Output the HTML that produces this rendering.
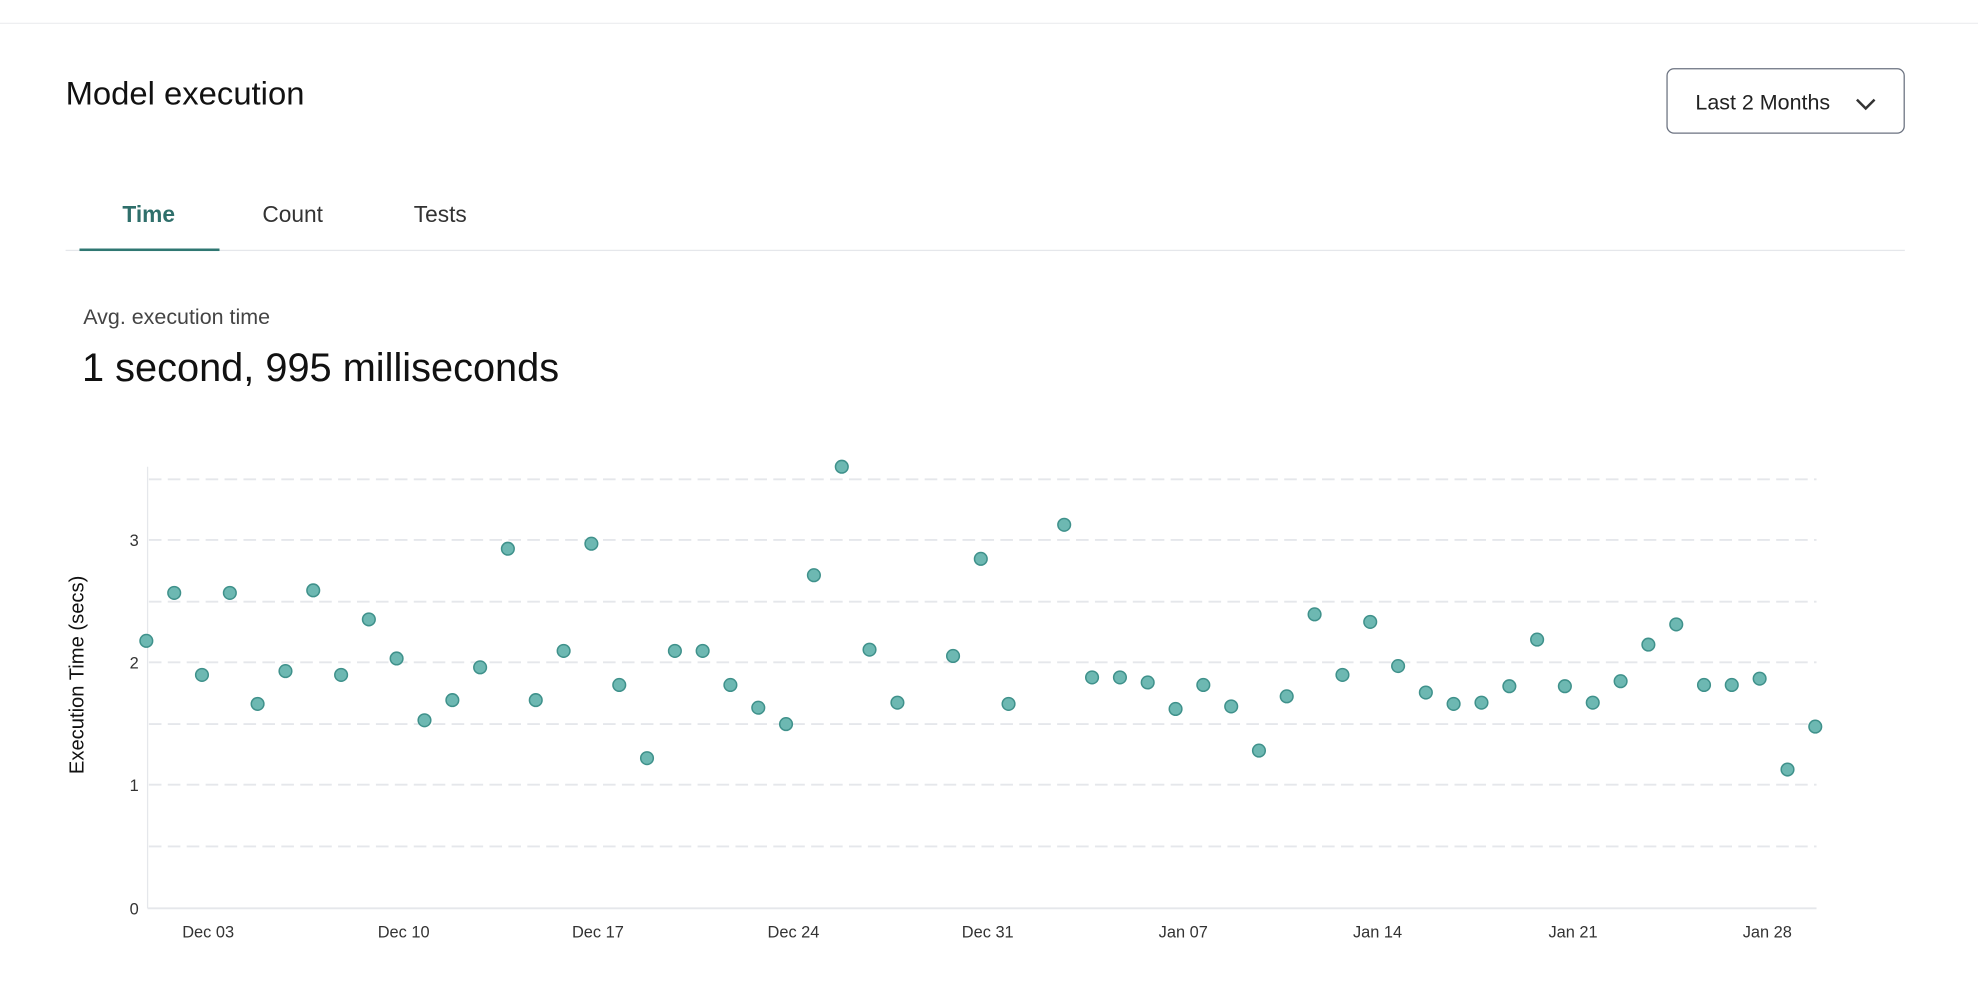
<!DOCTYPE html>
<html><head><meta charset="utf-8"><style>
html,body{margin:0;padding:0;background:#fff;width:1978px;height:1000px;overflow:hidden}
#w{position:absolute;left:0;top:0;width:1568px;height:793px;transform:scale(1.26148);transform-origin:0 0;font-family:"Liberation Sans",sans-serif}
.a{position:absolute;white-space:nowrap}
</style></head><body><div id="w">
<div class="a" style="left:0;top:18px;width:1568px;height:1px;background:#eeeff1"></div>
<div class="a" style="left:52px;top:59px;font-size:26px;color:#111">Model execution</div>
<div class="a" style="left:1321px;top:54px;width:189px;height:52px;border:1px solid #6b7280;border-radius:6px;box-sizing:border-box"></div>
<div class="a" style="left:1344px;top:72px;font-size:17px;color:#222">Last 2 Months</div>
<svg class="a" style="left:1470px;top:76px" width="18" height="12"><path d="M2 3 L9 10 L16 3" fill="none" stroke="#333" stroke-width="2"/></svg>
<div class="a" style="left:97px;top:160px;font-size:18px;color:#2f6f6b;font-weight:bold">Time</div>
<div class="a" style="left:208px;top:160px;font-size:18px;color:#333">Count</div>
<div class="a" style="left:328px;top:160px;font-size:18px;color:#333">Tests</div>
<div class="a" style="left:52px;top:198px;width:1458px;height:1px;background:#e5e7eb"></div>
<div class="a" style="left:63px;top:197px;width:111px;height:2px;background:#2f7772"></div>
<div class="a" style="left:66px;top:242px;font-size:17px;color:#444">Avg. execution time</div>
<div class="a" style="left:65px;top:273px;font-size:31.5px;color:#111">1 second, 995 milliseconds</div>
<svg class="a" style="left:0;top:0" width="1568" height="793">
<g stroke="#e5e7eb" stroke-width="1.5" stroke-dasharray="10 5">
<line x1="118" x2="1440" y1="380" y2="380"/><line x1="118" x2="1440" y1="428" y2="428"/>
<line x1="118" x2="1440" y1="477" y2="477"/><line x1="118" x2="1440" y1="525" y2="525"/>
<line x1="118" x2="1440" y1="574" y2="574"/><line x1="118" x2="1440" y1="622" y2="622"/>
<line x1="118" x2="1440" y1="671" y2="671"/></g>
<line x1="117" x2="117" y1="370" y2="720" stroke="#e5e7eb" stroke-width="1"/>
<line x1="117" x2="1440" y1="720" y2="720" stroke="#e5e7eb" stroke-width="1.5"/>
<g font-size="13" fill="#333" text-anchor="end">
<text x="110" y="725">0</text><text x="110" y="627">1</text><text x="110" y="530">2</text><text x="110" y="433">3</text></g>
<g font-size="13" fill="#333" text-anchor="middle">
<text x="165" y="743">Dec 03</text><text x="320" y="743">Dec 10</text><text x="474" y="743">Dec 17</text>
<text x="629" y="743">Dec 24</text><text x="783" y="743">Dec 31</text><text x="938" y="743">Jan 07</text>
<text x="1092" y="743">Jan 14</text><text x="1247" y="743">Jan 21</text><text x="1401" y="743">Jan 28</text></g>
<text transform="translate(66,535) rotate(-90)" font-size="16" fill="#111" text-anchor="middle">Execution Time (secs)</text>
<g fill="#6db8b2" stroke="#3f918b" stroke-width="1.2" id="pts"></g>
</svg>
<script>
var ys=[508,470,535,470,558,532,468,535,491,522,571,555,529,435,555,516,431,543,601,516,516,543,561,574,456,370,515,557,null,520,443,558,null,416,537,537,541,562,543,560,595,552,487,535,493,528,549,558,557,544,507,544,557,540,511,495,543,543,538,610,576];
var g=document.getElementById('pts'),s='';
for(var i=0;i<ys.length;i++){if(ys[i]===null)continue;var x=116+i*(1439-116)/60;s+='<circle cx="'+x.toFixed(1)+'" cy="'+ys[i]+'" r="5"/>';}
g.innerHTML=s;
</script>
</div></body></html>
